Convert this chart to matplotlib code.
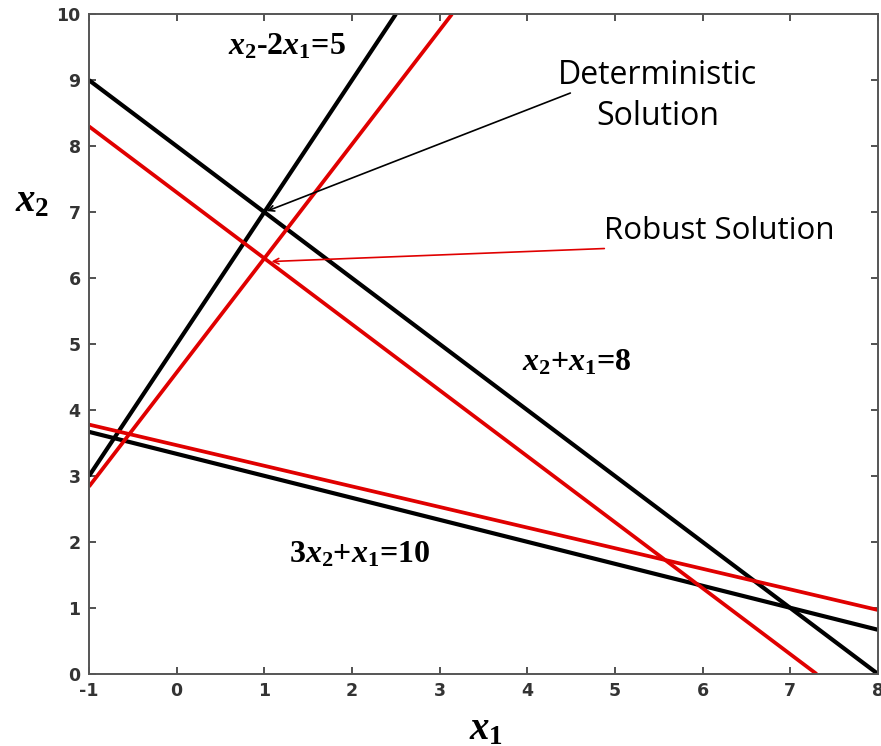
import matplotlib.pyplot as plt

plt.rcParams['mathtext.fontset'] = 'custom'
plt.rcParams['mathtext.it'] = 'Liberation Serif:italic:bold'
plt.rcParams['mathtext.rm'] = 'Liberation Serif:bold'
plt.rcParams['mathtext.bf'] = 'Liberation Serif:bold'
plt.rcParams['axes.unicode_minus'] = False

# line endpoints (x1, x2)
det_x = [[-1, 2.5], [-1, 8], [-1, 8]]
det_y = [[3, 10], [9, 0], [3.67, 0.67]]
rob_x = [[-1, 3.14], [-1, 7.3], [-1, 8]]
rob_y = [[2.84, 10], [8.3, 0], [3.78, 0.97]]

det_point = (1.0, 7.0)
rob_point = (1.05, 6.25)

fig = plt.figure(figsize=(8.81, 7.46), dpi=100)
ax = fig.add_axes([0.101, 0.0965, 0.8956, 0.8845])

for xs, ys in zip(det_x, det_y):
    ax.plot(xs, ys, color='black', lw=3.0, solid_capstyle='butt')
for xs, ys in zip(rob_x, rob_y):
    ax.plot(xs, ys, color='#e00000', lw=2.7, solid_capstyle='butt')

ax.set_xlim(-1, 8)
ax.set_ylim(0, 10)
ax.set_xticks(range(-1, 9))
ax.set_yticks(range(0, 11))
ax.tick_params(direction='in', length=5, width=1.2, top=True, right=True,
               labelsize=12.5, colors='#333333', pad=6)
for lab in ax.get_xticklabels() + ax.get_yticklabels():
    lab.set_fontweight('bold')
for sp in ax.spines.values():
    sp.set_color('#555555')
    sp.set_linewidth(1.4)

ax.text(-1.65, 7.18, r'$x_2$', fontsize=28, ha='center', va='center', clip_on=False)
ax.text(3.53, -0.82, r'$x_1$', fontsize=28, ha='center', va='center', clip_on=False)

eq = dict(fontsize=23, ha='center', va='center', family='Liberation Serif',
          fontweight='bold')
ax.text(1.26, 9.5, r'$x_2$-2$x_1$=5', **eq)
ax.text(4.56, 4.71, r'$x_2$+$x_1$=8', **eq)
ax.text(2.09, 1.8, r'3$x_2$+$x_1$=10', **eq)

ax.annotate('', xy=det_point, xytext=(4.52, 8.82),
            arrowprops=dict(arrowstyle='->', color='black', lw=1.2))
ax.text(5.49, 8.76, 'Deterministic\nSolution', fontsize=23, family='Open Sans',
        ha='center', va='center', linespacing=1.3)
ax.annotate('', xy=rob_point, xytext=(4.91, 6.45),
            arrowprops=dict(arrowstyle='->', color='#e00000', lw=1.2))
ax.text(6.19, 6.72, 'Robust Solution', fontsize=22.5, family='Open Sans',
        ha='center', va='center')

plt.savefig('out.png', dpi=100)
